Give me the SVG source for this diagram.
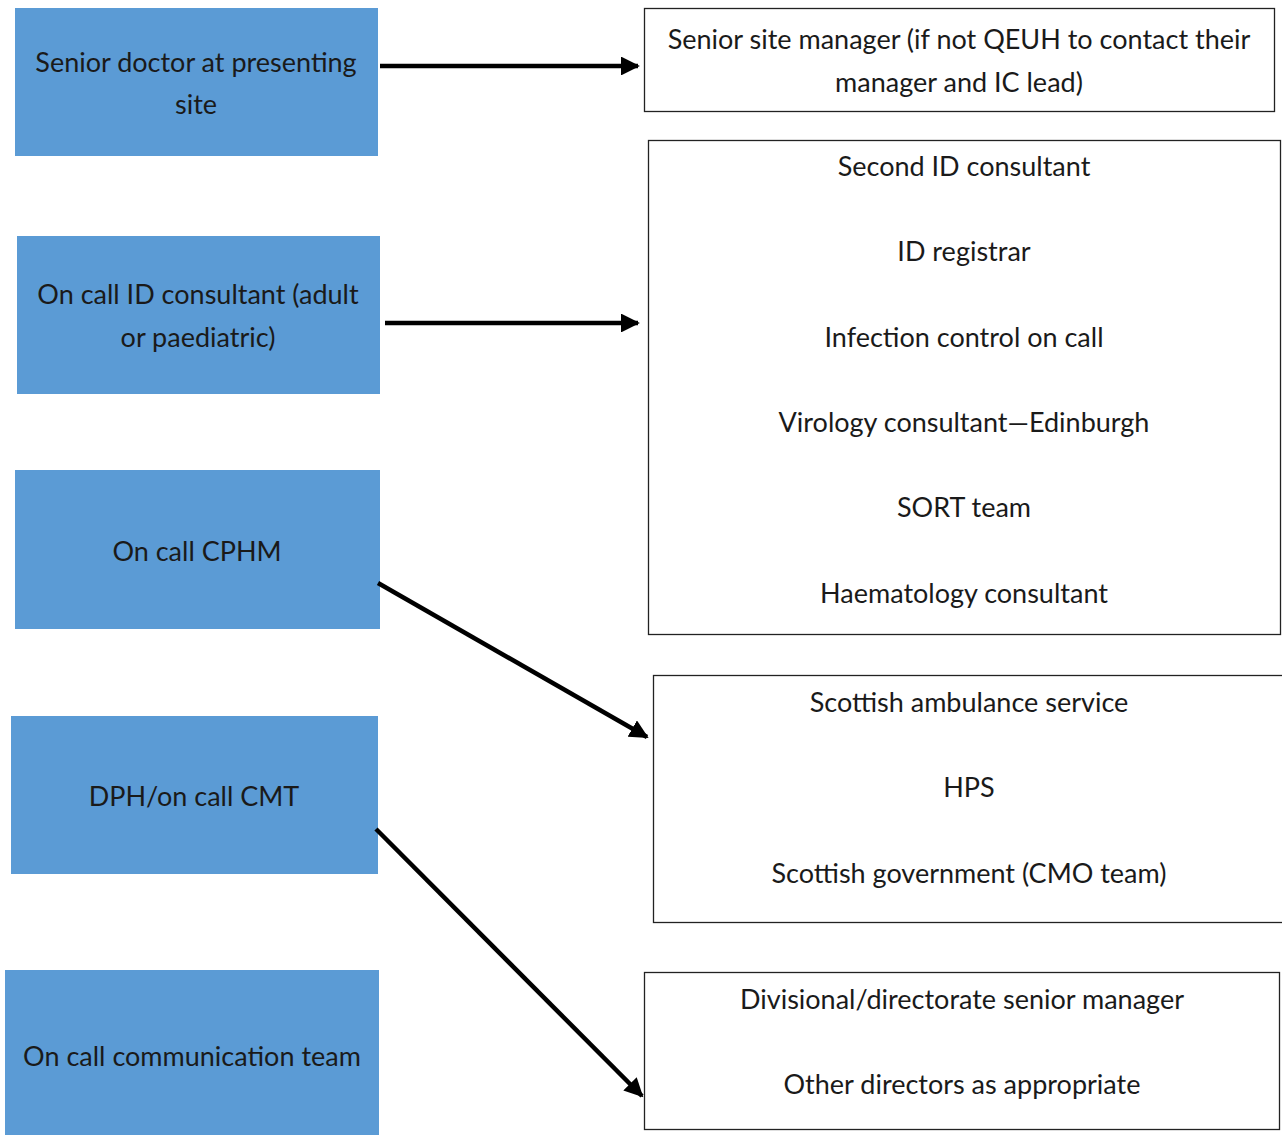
<svg xmlns="http://www.w3.org/2000/svg" width="1282" height="1135" viewBox="0 0 1282 1135">
<defs>
<style>
.blue{fill:#5B9BD5;stroke:none}
.white{fill:#fff;stroke:#222;stroke-width:1.3}
text{font-family:Lato,"Open Sans","Liberation Sans",sans-serif;font-size:27px;fill:#1a1a1a;text-anchor:middle;dominant-baseline:central}
.conn{stroke:#000;stroke-width:4.5;fill:none;marker-end:url(#ah)}
</style>
<marker id="ah" viewBox="0 0 10 10" refX="9" refY="5" markerWidth="4.2" markerHeight="4.2" orient="auto" markerUnits="strokeWidth">
<path d="M0,0 L10,5 L0,10 Z" fill="#000"/>
</marker>
</defs>
<rect width="1282" height="1135" fill="#fff"/>
<g id="n1"><rect class="blue" x="15" y="8" width="363" height="148"/><text x="196" y="61">Senior doctor at presenting</text><text x="196" y="103">site</text></g>
<g id="n2"><rect class="blue" x="17" y="236" width="363" height="158"/><text x="198" y="293">On call ID consultant (adult</text><text x="198" y="336">or paediatric)</text></g>
<g id="n3"><rect class="blue" x="15" y="470" width="365" height="159"/><text x="197" y="550">On call CPHM</text></g>
<g id="n4"><rect class="blue" x="11" y="716" width="367" height="158"/><text x="194" y="795">DPH/on call CMT</text></g>
<g id="n5"><rect class="blue" x="5" y="970" width="374" height="165"/><text x="192" y="1055">On call communication team</text></g>
<g id="w1"><rect class="white" x="644.5" y="8.5" width="630" height="103"/><text x="959" y="38">Senior site manager (if not QEUH to contact their</text><text x="959" y="81">manager and IC lead)</text></g>
<g id="w2"><rect class="white" x="648.5" y="140.5" width="632" height="494"/><text x="964" y="165">Second ID consultant</text><text x="964" y="250">ID registrar</text><text x="964" y="336">Infection control on call</text><text x="964" y="421">Virology consultant—Edinburgh</text><text x="964" y="506">SORT team</text><text x="964" y="592">Haematology consultant</text></g>
<g id="w3"><rect class="white" x="653.5" y="675.5" width="632" height="247"/><text x="969" y="701">Scottish ambulance service</text><text x="969" y="786">HPS</text><text x="969" y="872">Scottish government (CMO team)</text></g>
<g id="w4"><rect class="white" x="644.5" y="972.5" width="635" height="157"/><text x="962" y="998">Divisional/directorate senior manager</text><text x="962" y="1083">Other directors as appropriate</text></g>
<g id="connectors">
<line class="conn" x1="380" y1="66" x2="638" y2="66"/>
<line class="conn" x1="385" y1="323" x2="638" y2="323"/>
<line class="conn" x1="378" y1="583" x2="647" y2="737"/>
<line class="conn" x1="376" y1="829" x2="642" y2="1096"/>
</g>
</svg>
